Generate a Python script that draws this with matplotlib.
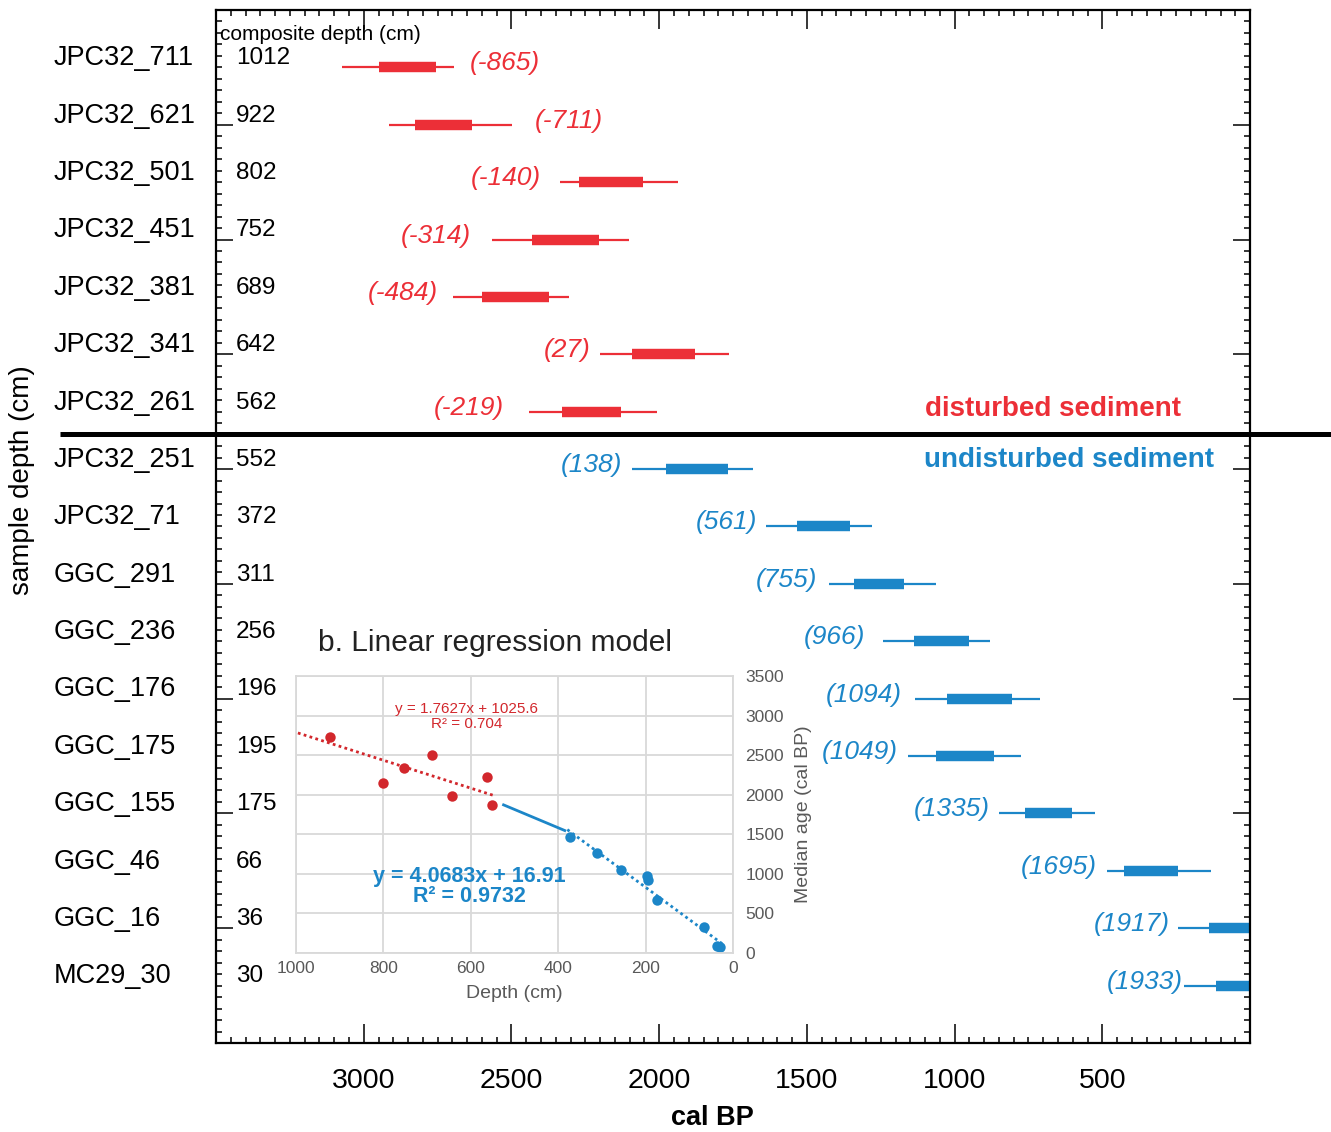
import numpy as np
import matplotlib
matplotlib.use("Agg")
import matplotlib.pyplot as plt
from matplotlib.ticker import MultipleLocator
from matplotlib.transforms import blended_transform_factory

plt.rcParams['font.family'] = ['Liberation Sans', 'DejaVu Sans']

RED = "#ec2f37"
BLUE = "#1c86c8"
IN_RED = "#d2272c"
GRAY = "#595959"
GRID = "#d9d9d9"

# main panel: calibrated ages (cal BP) per sample
samples = ["JPC32_711", "JPC32_621", "JPC32_501", "JPC32_451", "JPC32_381",
           "JPC32_341", "JPC32_261", "JPC32_251", "JPC32_71", "GGC_291",
           "GGC_236", "GGC_176", "GGC_175", "GGC_155", "GGC_46", "GGC_16",
           "MC29_30"]
comp_depth = [1012, 922, 802, 752, 689, 642, 562, 552, 372, 311, 256, 196,
              195, 175, 66, 36, 30]
offsets = ["(-865)", "(-711)", "(-140)", "(-314)", "(-484)", "(27)", "(-219)",
           "(138)", "(561)", "(755)", "(966)", "(1094)", "(1049)", "(1335)",
           "(1695)", "(1917)", "(1933)"]
sig2_old = [3072, 2913, 2336, 2565, 2699, 2202, 2441, 2093, 1640, 1425, 1242,
            1134, 1158, 849, 483, 245, 222]
sig2_young = [2694, 2497, 1938, 2102, 2306, 1764, 2008, 1681, 1279, 1064, 880,
              711, 774, 525, 133, -60, -60]
sig1_old = [2947, 2826, 2271, 2430, 2601, 2091, 2329, 1976, 1534, 1341, 1138,
            1025, 1064, 762, 426, 138, 115]
sig1_young = [2756, 2632, 2056, 2204, 2372, 1880, 2130, 1768, 1353, 1172, 951,
              805, 868, 602, 245, -20, -20]
disturbed = [True] * 7 + [False] * 10

# inset: median age vs composite depth
in_red_depth = [922, 802, 752, 689, 642, 562, 552]
in_red_age = [2734, 2150, 2335, 2503, 1981, 2225, 1872]
in_blue_depth = [372, 311, 256, 196, 195, 175, 66, 36, 30]
in_blue_age = [1460, 1262, 1043, 976, 917, 673, 324, 93, 72]
red_fit = (1.7627, 1025.6)
blue_fit = (4.0683, 16.91)
red_fit_span = [550, 1000]
blue_fit_span = [25, 385]
blue_link_depth = [525, 385]
blue_link_age = [1872, 1548]

# layout: label gap (cal yr) and which side of the bar the label sits on
label_gap = [54, 75, 65, 73, 51, 32, 86, 34, 29, 42, 61, 45, 36, 31, 36, 28, 6]
label_right_of_bar = [True, True] + [False] * 15

fig = plt.figure(figsize=(13.31, 11.32), dpi=100)
ax = fig.add_axes([0.1623, 0.0786, 0.7769, 0.9126])
ax.set_xlim(3500, 0)
ax.set_ylim(9, 0)

rows = 0.5 + 0.5 * np.arange(len(samples))
lt = blended_transform_factory(ax.transAxes, ax.transData)
for i, y in enumerate(rows):
    c = RED if disturbed[i] else BLUE
    ax.hlines(y, sig2_old[i], sig2_young[i], color=c, lw=1.6)
    ax.hlines(y, sig1_old[i], sig1_young[i], color=c, lw=7.5, capstyle="butt")
    if label_right_of_bar[i]:
        ax.text(sig2_young[i] - label_gap[i], y - 0.035, offsets[i], color=c,
                style="italic", fontsize=19, ha="left", va="center")
    else:
        ax.text(sig2_old[i] + label_gap[i], y - 0.035, offsets[i], color=c,
                style="italic", fontsize=19, ha="right", va="center")
    ax.text(-0.1567, y - 0.08, samples[i], transform=lt, fontsize=19.5,
            ha="left", va="center", clip_on=False)
    ax.text(0.0195, y - 0.08, str(comp_depth[i]), transform=lt, fontsize=17.5,
            ha="left", va="center")

ax.plot([-0.151, 1.078], [3.69, 3.69], transform=lt, color="black", lw=3.6,
        clip_on=False, solid_capstyle="butt")
ax.text(0.9333, 3.476, "disturbed sediment", transform=lt, color=RED,
        fontsize=20, fontweight="bold", ha="right", va="center")
ax.text(0.9652, 3.92, "undisturbed sediment", transform=lt, color=BLUE,
        fontsize=20, fontweight="bold", ha="right", va="center")

ax.set_xticks([3000, 2500, 2000, 1500, 1000, 500])
ax.xaxis.set_minor_locator(MultipleLocator(50))
ax.set_yticks(range(1, 9))
ax.set_yticklabels([])
ax.yaxis.set_minor_locator(MultipleLocator(0.1))
ax.tick_params(which="both", direction="in", top=True, right=True, width=1.1)
ax.tick_params(axis="x", which="major", length=14, pad=18, labelsize=20.5)
ax.tick_params(axis="y", which="major", length=12.5)
ax.tick_params(which="minor", length=4)
for s in ax.spines.values():
    s.set_linewidth(1.6)
ax.set_xlabel("cal BP", fontsize=19.5, fontweight="bold", va="center")
ax.xaxis.set_label_coords(0.48, -0.0726)

fig.text(22 / 1331, 1 - 480 / 1132, "sample depth (cm)", rotation=90,
         fontsize=20, ha="center", va="center")
fig.text(220 / 1331, 1 - 34 / 1132, "composite depth (cm)", fontsize=15,
         ha="left", va="center")

# inset regression panel
ai = fig.add_axes([0.2224, 0.1581, 0.3283, 0.2447])
ai.set_facecolor("white")
ai.set_xlim(1000, 0)
ai.set_ylim(0, 3500)
ai.set_xticks(range(0, 1001, 200))
ai.set_yticks(range(0, 3501, 500))
ai.grid(True, color=GRID, lw=1.3)
ai.set_axisbelow(True)
for s in ai.spines.values():
    s.set_color(GRID)
    s.set_linewidth(1.3)
ai.yaxis.tick_right()
ai.yaxis.set_label_position("right")
ai.tick_params(length=0, labelsize=12.5, labelcolor=GRAY)
ai.tick_params(axis="y", pad=9)
ai.tick_params(axis="x", pad=6)
ai.set_xlabel("Depth (cm)", fontsize=14, color=GRAY)
ai.set_ylabel("Median age (cal BP)", fontsize=14, color=GRAY, rotation=90)
ai.xaxis.set_label_coords(0.499, -0.115)
ai.yaxis.set_label_coords(1.142, 0.5)

rx = np.array(red_fit_span)
ai.plot(rx, red_fit[0] * rx + red_fit[1], color=IN_RED, lw=2, ls=(0, (1, 1.2)))
bx = np.array(blue_fit_span)
ai.plot(bx, blue_fit[0] * bx + blue_fit[1], color=BLUE, lw=2, ls=(0, (1, 1.2)))
ai.plot(blue_link_depth, blue_link_age, color=BLUE, lw=2)
ai.plot(in_red_depth, in_red_age, "o", color=IN_RED, ms=7.5, mec="none")
ai.plot(in_blue_depth, in_blue_age, "o", color=BLUE, ms=7.5, mec="none")

ai.text(609, 3083, "y = 1.7627x + 1025.6", color=IN_RED, fontsize=11,
        ha="center", va="center")
ai.text(609, 2893, "R² = 0.704", color=IN_RED, fontsize=11,
        ha="center", va="center")
ai.text(604, 973, "y = 4.0683x + 16.91", color=BLUE, fontsize=15.5,
        fontweight="bold", ha="center", va="center")
ai.text(604, 708, "R² = 0.9732", color=BLUE, fontsize=15.5,
        fontweight="bold", ha="center", va="center")

fig.text(318 / 1331, 1 - 643 / 1132, "b. Linear regression model",
         fontsize=21.5, color="#222222", ha="left", va="center")

fig.savefig("out.png", dpi=100)
